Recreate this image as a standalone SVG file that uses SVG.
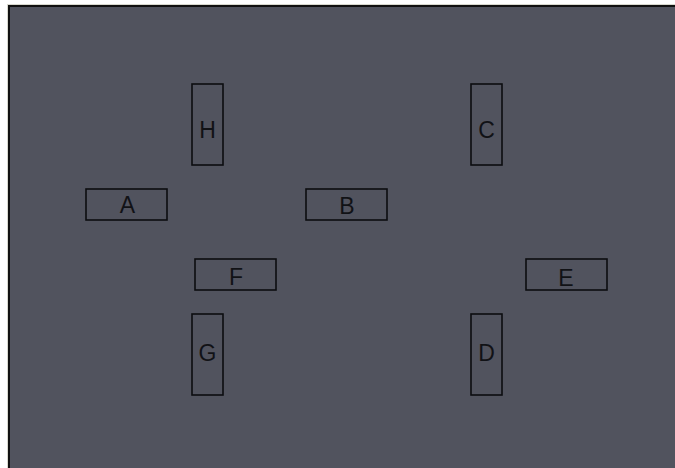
<svg xmlns="http://www.w3.org/2000/svg" width="675" height="468" viewBox="0 0 675 468">
<style>
.n rect{fill:none;stroke:#0c0d10;stroke-width:1.6}
.n text{font-family:"Liberation Sans","DejaVu Sans",sans-serif;font-size:23px;fill:#111216;text-anchor:middle}
</style>
<rect x="0" y="0" width="675" height="468" fill="#ffffff"/>
<rect x="7" y="4" width="668" height="464" fill="#d9d9cf"/>
<rect x="8" y="5" width="667" height="463" fill="#111111"/>
<rect x="10" y="7" width="665" height="461" fill="#51535e"/>
<g id="connectors"></g>
<g id="H" class="n"><rect x="192" y="84" width="31" height="81"/><text x="207.5" y="137.5">H</text></g>
<g id="C" class="n"><rect x="471" y="84" width="31" height="81"/><text x="486.5" y="137.5">C</text></g>
<g id="A" class="n"><rect x="86" y="189" width="81" height="31"/><text x="127.5" y="212.5">A</text></g>
<g id="B" class="n"><rect x="306" y="189" width="81" height="31"/><text x="347" y="213.5">B</text></g>
<g id="F" class="n"><rect x="195" y="259" width="81" height="31"/><text x="236" y="284.5">F</text></g>
<g id="E" class="n"><rect x="526" y="259" width="81" height="31"/><text x="566" y="286">E</text></g>
<g id="G" class="n"><rect x="192" y="314" width="31" height="81"/><text x="207.5" y="361">G</text></g>
<g id="D" class="n"><rect x="471" y="314" width="31" height="81"/><text x="486.5" y="360.5">D</text></g>
</svg>
